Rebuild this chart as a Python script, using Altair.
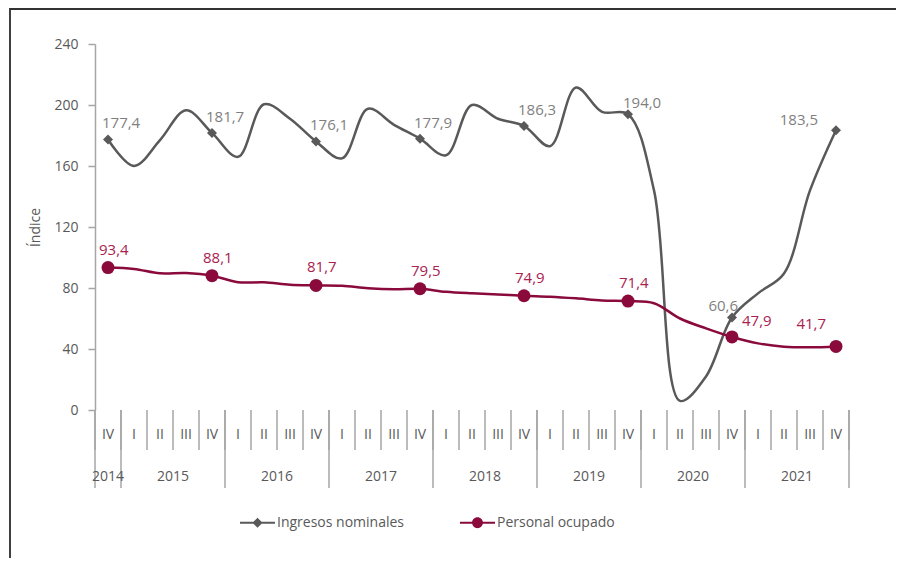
import altair as alt
import pandas as pd

# ---- data ----
years = ["2014"] + [str(y) for y in range(2015, 2022) for _ in range(4)]
quarters = ["IV"] + ["I", "II", "III", "IV"] * 7
ingresos = [177.4,
            160.0, 177.0, 196.5, 181.7,
            166.0, 200.5, 191.0, 176.1,
            165.0, 197.5, 187.0, 177.9,
            167.0, 200.0, 191.0, 186.3,
            173.0, 211.5, 195.5, 194.0,
            144.0, 6.0, 22.0, 60.6,
            76.5, 89.5, 144.0, 183.5]
personal = [93.4,
            92.5, 89.6, 89.8, 88.1,
            83.8, 83.7, 82.2, 81.7,
            81.4, 79.9, 79.2, 79.5,
            77.5, 76.5, 75.8, 74.9,
            74.3, 73.2, 71.8, 71.4,
            70.0, 60.0, 53.5, 47.9,
            43.7, 41.5, 41.1, 41.7]
series_names = ["Ingresos nominales", "Personal ocupado"]

FONT = "Open Sans"
GRAY = "#595959"
GRAY_LAB = "#7f7f7f"
RED = "#8a0a3c"
RED_LAB = "#a8224f"
AXIS_C = "#a6a6a6"
TXT = "#595959"

n = len(quarters)
df = pd.DataFrame({
    "idx": list(range(n)),
    "year": years,
    "q": quarters,
    "ing": ingresos,
    "per": personal,
})
df["ing_t"] = df["ing"].map(lambda v: f"{v:.1f}".replace(".", ","))
df["per_t"] = df["per"].map(lambda v: f"{v:.1f}".replace(".", ","))

W, H = 754, 366
xs = alt.Scale(domain=[-0.5, n - 0.5], nice=False, zero=False)
ys = alt.Scale(domain=[0, 240], nice=False)

base = alt.Chart(df)
X = alt.X("idx:Q", scale=xs, axis=alt.Axis(labels=False, ticks=False, grid=False, title=None,
                                            domainColor=AXIS_C, domainWidth=1.5))
Xn = alt.X("idx:Q", scale=xs, axis=None)

line_ing = base.mark_line(interpolate="catmull-rom", color=GRAY, strokeWidth=2.5).encode(
    x=X,
    y=alt.Y("ing:Q", scale=ys,
            axis=alt.Axis(values=[0, 40, 80, 120, 160, 200, 240], grid=False,
                          domainColor=AXIS_C, domainWidth=1.5, tickColor=AXIS_C, tickSize=7,
                          tickWidth=1.5, labelPadding=10, labelFont=FONT, labelFontSize=14,
                          labelColor=TXT, title="Índice", titleFont=FONT, titleFontSize=14,
                          titleFontWeight="normal", titleColor=TXT, titleAngle=-90,
                          titleX=-60, titleY=183, titleAlign="center", titleBaseline="middle")),
)
line_per = base.mark_line(interpolate="catmull-rom", color=RED, strokeWidth=2.5).encode(
    x=Xn, y=alt.Y("per:Q", scale=ys))

iv = base.transform_filter(alt.datum.q == "IV")
pts_ing = iv.mark_point(shape="diamond", filled=True, size=100, color=GRAY, opacity=1).encode(
    x=Xn, y=alt.Y("ing:Q", scale=ys))
pts_per = iv.mark_point(shape="circle", filled=True, size=169, color=RED, opacity=1).encode(
    x=Xn, y=alt.Y("per:Q", scale=ys))


def labels(field, text, color, ids, align, dx, dy):
    return base.transform_filter(alt.FieldOneOfPredicate(field="idx", oneOf=ids)).mark_text(
        align=align, dx=dx, dy=dy, baseline="alphabetic", font=FONT, fontSize=15, color=color
    ).encode(x=Xn, y=alt.Y(f"{field}:Q", scale=ys), text=f"{text}:N")


lab_layers = [
    labels("ing", "ing_t", GRAY_LAB, [0, 4, 8, 12, 16], "left", -6, -11),
    labels("ing", "ing_t", GRAY_LAB, [20], "left", -5, -6),
    labels("ing", "ing_t", GRAY_LAB, [24], "right", 6, -7),
    labels("ing", "ing_t", GRAY_LAB, [28], "right", -18, -5),
    labels("per", "per_t", RED_LAB, [0, 4, 8, 12, 16, 20], "left", -9, -13),
    labels("per", "per_t", RED_LAB, [24], "left", 10, -11),
    labels("per", "per_t", RED_LAB, [28], "right", -10, -17),
]

# ---- category axis (quarters / years) ----
bounds = pd.DataFrame({"b": [i - 0.5 for i in range(n + 1)]})
ybounds = pd.DataFrame({"b": [-0.5] + [i + 0.5 for i in range(0, n, 4)]})

q_sep = alt.Chart(bounds).mark_rule(color=AXIS_C, strokeWidth=1.5).encode(
    x=alt.X("b:Q", scale=xs, axis=None), y=alt.value(H), y2=alt.value(H + 40))
y_sep = alt.Chart(ybounds).mark_rule(color=AXIS_C, strokeWidth=1.5).encode(
    x=alt.X("b:Q", scale=xs, axis=None), y=alt.value(H), y2=alt.value(H + 78))

q_lab = base.mark_text(font=FONT, fontSize=14, color=TXT, baseline="middle").encode(
    x=Xn, y=alt.value(H + 25), text="q:N")
y_lab = base.transform_aggregate(c="mean(idx)", groupby=["year"]).mark_text(
    font=FONT, fontSize=14, color=TXT, baseline="middle").encode(
    x=alt.X("c:Q", scale=xs, axis=None), y=alt.value(H + 67), text="year:N")

# ---- frame ----
one = pd.DataFrame({"k": [0]})
frame_left = alt.Chart(one).mark_rule(color="#000000", strokeWidth=1.5).encode(
    x=alt.value(-85), y=alt.value(-36), y2=alt.value(H + 150))
frame_top = alt.Chart(one).mark_rule(color="#333333", strokeWidth=2).encode(
    x=alt.value(-85), x2=alt.value(W + 47), y=alt.value(-35))

# ---- legend (hidden points, clipped away) ----
leg_df = pd.DataFrame({"serie": series_names, "v": [-100, -100], "idx": [0, 0]})
diamond_path = "M-1,-0.06L1,-0.06L1,0.06L-1,0.06Z M0,-0.29L0.29,0L0,0.29L-0.29,0Z"
circle_path = ("M-1,-0.06L1,-0.06L1,0.06L-1,0.06Z "
               "M-0.31,0A0.31,0.31 0 1,1 0.31,0A0.31,0.31 0 1,1 -0.31,0Z")
legend_layer = alt.Chart(leg_df).mark_point(filled=True, clip=True, opacity=1).encode(
    x=Xn,
    y=alt.Y("v:Q", scale=ys),
    color=alt.Color("serie:N", scale=alt.Scale(domain=series_names, range=[GRAY, RED]),
                    legend=alt.Legend(orient="none", legendX=145, legendY=461,
                                      direction="horizontal", title=None,
                                      symbolSize=1225, symbolStrokeWidth=0,
                                      labelFont=FONT, labelFontSize=14, labelColor=TXT,
                                      labelOffset=2, columnPadding=55)),
    shape=alt.Shape("serie:N", scale=alt.Scale(domain=series_names,
                                                range=[diamond_path, circle_path])),
)

chart = alt.layer(
    frame_left, frame_top, q_sep, y_sep, q_lab, y_lab,
    line_ing, line_per, pts_ing, pts_per, *lab_layers, legend_layer
).properties(
    width=W, height=H,
    padding={"left": 87, "top": 36, "right": 47, "bottom": 148},
    autosize=alt.AutoSizeParams(type="none"),
).configure(background="white", view=alt.ViewConfig(stroke=None))

chart.save("out.html", embed_options={"renderer": "svg", "actions": False})
